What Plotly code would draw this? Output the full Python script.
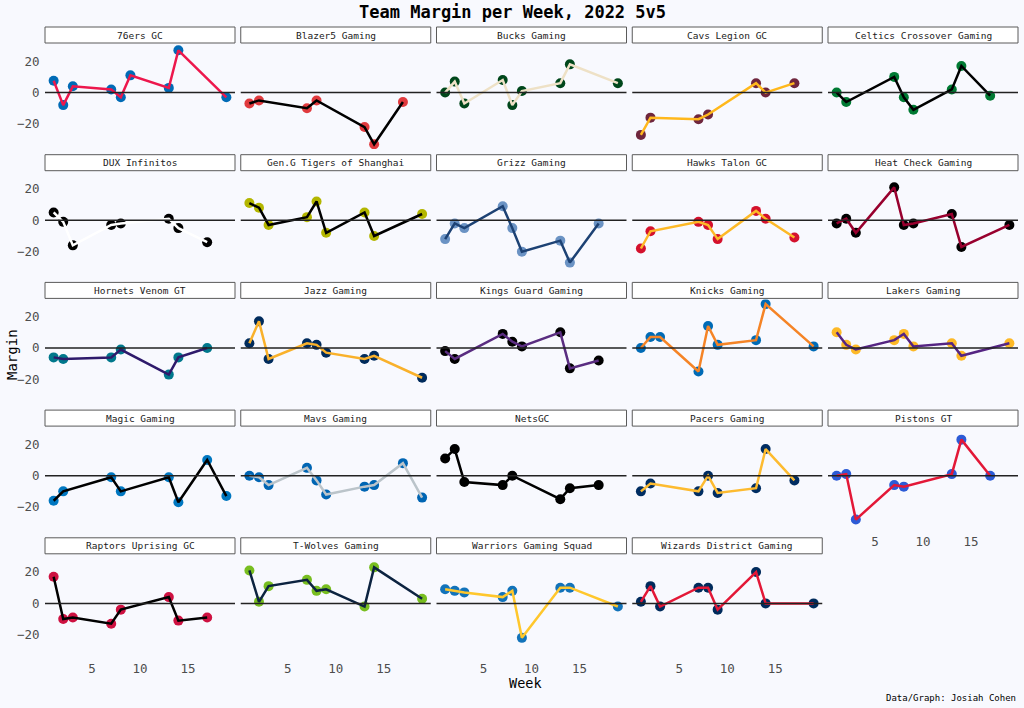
import plotly.graph_objects as go

TEAMS = ["76ers GC", "Blazer5 Gaming", "Bucks Gaming", "Cavs Legion GC", "Celtics Crossover Gaming",
         "DUX Infinitos", "Gen.G Tigers of Shanghai", "Grizz Gaming", "Hawks Talon GC", "Heat Check Gaming",
         "Hornets Venom GT", "Jazz Gaming", "Kings Guard Gaming", "Knicks Gaming", "Lakers Gaming",
         "Magic Gaming", "Mavs Gaming", "NetsGC", "Pacers Gaming", "Pistons GT",
         "Raptors Uprising GC", "T-Wolves Gaming", "Warriors Gaming Squad", "Wizards District Gaming"]

WEEKS = [
    [1, 2, 3, 7, 8, 9, 13, 14, 19],
    [1, 2, 7, 8, 13, 14, 17],
    [1, 2, 3, 7, 8, 9, 13, 14, 19],
    [1, 2, 7, 8, 13, 14, 17],
    [1, 2, 7, 8, 9, 13, 14, 17],
    [1, 2, 3, 7, 8, 13, 14, 17],
    [1, 2, 3, 7, 8, 9, 13, 14, 19],
    [1, 2, 3, 7, 8, 9, 13, 14, 17],
    [1, 2, 7, 8, 9, 13, 14, 17],
    [1, 2, 3, 7, 8, 9, 13, 14, 19],
    [1, 2, 7, 8, 13, 14, 17],
    [1, 2, 3, 7, 8, 9, 13, 14, 19],
    [1, 2, 7, 8, 9, 13, 14, 17],
    [1, 2, 3, 7, 8, 9, 13, 14, 19],
    [1, 2, 3, 7, 8, 9, 13, 14, 19],
    [1, 2, 7, 8, 13, 14, 17, 19],
    [1, 2, 3, 7, 8, 9, 13, 14, 17, 19],
    [1, 2, 3, 7, 8, 13, 14, 17],
    [1, 2, 7, 8, 9, 13, 14, 17],
    [1, 2, 3, 7, 8, 13, 14, 17],
    [1, 2, 3, 7, 8, 13, 14, 17],
    [1, 2, 3, 7, 8, 9, 13, 14, 19],
    [1, 2, 3, 7, 8, 9, 13, 14, 19],
    [1, 2, 3, 7, 8, 9, 13, 14, 19],
]

MARGINS = [
    [7.5, -8, 4, 2, -3, 11, 3, 27, -3],
    [-7, -5, -10, -5, -22, -33, -6],
    [0, 7, -7, 8, -8, 1, 6, 18, 6],
    [-27, -16, -17, -14, 6, 0, 6],
    [0, -6, 10, -3, -11, 2, 17, -2],
    [5, -1, -16, -3, -2, 1, -5, -14],
    [11, 8, -3, 2, 12, -8, 5, -10, 4],
    [-12, -2, -5, 9, -5, -20, -13, -27, -2],
    [-18, -7, -1, -3, -12, 6, 1, -11],
    [-2, 1, -8, 21, -3, -2, 4, -17, -3],
    [-6, -7, -6, -1, -17, -6, 0],
    [3, 17, -7, 3, 2, -3, -7, -5, -19],
    [-2, -7, 9, 4, 1, 10, -13, -8],
    [0, 7, 7, -15, 14, 2, 5, 28, 1],
    [10, 2, -1, 5, 9, 1, 3, -5, 3],
    [-16, -10, -1, -10, -1, -17, 10, -13],
    [0, -1, -6, 5, -3, -12, -7, -6, 8, -14],
    [11, 17, -4, -6, 0, -15, -8, -6],
    [-10, -5, -10, 0, -11, -8, 17, -3],
    [0, 1, -28, -6, -7, 1, 23, 0],
    [17, -10, -9, -13, -4, 4, -11, -9],
    [21, 1, 11, 15, 8, 9, -2, 23, 3],
    [9, 8, 7, 4, 8, -22, 10, 10, -2],
    [1, 11, -2, 10, 10, -4, 20, 0, 0],
]

POINT_COLORS = ["#006BB6", "#E03A3E", "#00471B", "#6F263D", "#007A33",
                "#000000", "#B3B600", "#6B93C4", "#D4112D", "#000000",
                "#00788C", "#002B5C", "#000000", "#006BB6", "#FDB927",
                "#0077C0", "#0065B3", "#000000", "#002D62", "#2C5BD6",
                "#CE1141", "#78BE20", "#1273BA", "#002B5C"]
LINE_COLORS = ["#ED174C", "#000000", "#EEE1C6", "#FFB81C", "#000000",
               "#FFFFFF", "#000000", "#1D4274", "#FDB927", "#98002E",
               "#2E1A6B", "#F9B12B", "#5A2D81", "#F58426", "#552583",
               "#000000", "#BBC4CA", "#000000", "#FDBB30", "#E31837",
               "#000000", "#0C2340", "#FFC72C", "#E31837"]

W, H = 1024, 708
BG = "#F8F9FE"
FONT = "DejaVu Sans Mono"

fig = go.Figure()
layout = {}
shapes = []
annotations = []

for i, team in enumerate(TEAMS):
    r, c = divmod(i, 5)
    n = i + 1
    xa = "x" if n == 1 else f"x{n}"
    ya = "y" if n == 1 else f"y{n}"
    left = 45 + c * 195.75
    right = left + 190
    top = 44 + r * 127.7
    bottom = top + 105

    fig.add_trace(go.Scatter(x=WEEKS[i], y=MARGINS[i], mode="markers",
                             marker=dict(color=POINT_COLORS[i], size=10),
                             xaxis=xa, yaxis=ya, showlegend=False, hoverinfo="skip"))
    fig.add_trace(go.Scatter(x=WEEKS[i], y=MARGINS[i], mode="lines",
                             line=dict(color=LINE_COLORS[i], width=2.5),
                             xaxis=xa, yaxis=ya, showlegend=False))

    show_x = (r == 4) or (r == 3 and c == 4)
    layout["xaxis" if n == 1 else f"xaxis{n}"] = dict(
        domain=[left / W, right / W], range=[0.1, 19.9], anchor=ya,
        tickvals=[5, 10, 15], showticklabels=show_x, showgrid=False, zeroline=False,
        showline=False, ticks="", ticklen=0,
        tickfont=dict(family=FONT, size=12.5, color="#4D4D4D"))
    layout["yaxis" if n == 1 else f"yaxis{n}"] = dict(
        domain=[1 - bottom / H, 1 - top / H], range=[-36, 31], anchor=xa,
        tickvals=[-20, 0, 20], showticklabels=(c == 0), showgrid=False,
        zeroline=False, showline=False,
        ticks="outside", ticklen=2, tickcolor=BG,
        tickfont=dict(family=FONT, size=12.5, color="#4D4D4D"))

    # zero reference line drawn above the team lines
    shapes.append(dict(type="line", xref=f"{xa} domain", yref=ya, x0=0, x1=1, y0=0, y1=0,
                       line=dict(color="#222222", width=1.5), layer="above"))
    shapes.append(dict(type="rect", xref="paper", yref="paper",
                       x0=left / W, x1=right / W, y0=1 - (top - 1) / H, y1=1 - (top - 17) / H,
                       line=dict(color="#5A5A5A", width=1), fillcolor="#FFFFFF", layer="below"))
    annotations.append(dict(text=team, xref="paper", yref="paper",
                            x=(left + right) / 2 / W, y=1 - (top - 9) / H,
                            showarrow=False, xanchor="center", yanchor="middle",
                            font=dict(family=FONT, size=9.5, color="#1A1A1A")))

annotations.append(dict(text="<b>Team Margin per Week, 2022 5v5</b>", xref="paper", yref="paper",
                        x=0.5, y=1 - 12 / H, showarrow=False, xanchor="center", yanchor="middle",
                        font=dict(family=FONT, size=17, color="#000000")))
annotations.append(dict(text="Week", xref="paper", yref="paper",
                        x=525 / W, y=1 - 683 / H, showarrow=False, xanchor="center", yanchor="middle",
                        font=dict(family=FONT, size=13.5, color="#000000")))
annotations.append(dict(text="Margin", xref="paper", yref="paper", textangle=-90,
                        x=12 / W, y=1 - 355 / H, showarrow=False, xanchor="center", yanchor="middle",
                        font=dict(family=FONT, size=14, color="#000000")))
annotations.append(dict(text="Data/Graph: Josiah Cohen", xref="paper", yref="paper",
                        x=1018 / W, y=1 - 698 / H, showarrow=False, xanchor="right", yanchor="middle",
                        font=dict(family=FONT, size=9, color="#000000")))

fig.update_layout(width=W, height=H, margin=dict(l=0, r=0, t=0, b=0),
                  paper_bgcolor=BG, plot_bgcolor=BG, shapes=shapes, annotations=annotations,
                  **layout)
fig.write_html("out.html", config={"displayModeBar": False},
               post_script="document.body.style.margin='0';document.body.style.overflow='hidden';")
